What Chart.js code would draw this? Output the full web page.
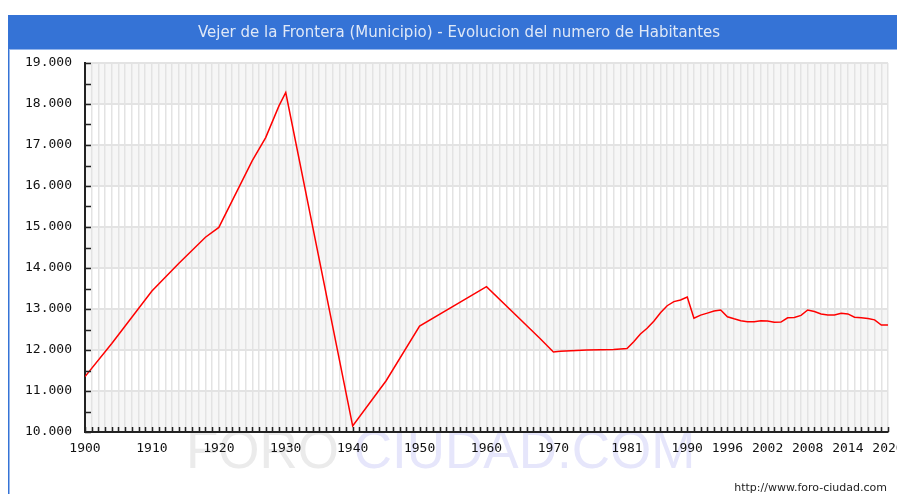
<!DOCTYPE html>
<html>
<head>
<meta charset="utf-8">
<script src="https://cdn.jsdelivr.net/npm/chart.js@4.4.0/dist/chart.umd.min.js"></script>
<style>
html, body { margin: 0; padding: 0; background: #fff; }
</style>
</head>
<body>
<canvas id="habitantes-chart" width="897" height="494"></canvas>
<script>
var titulo = 'Vejer de la Frontera (Municipio) - Evolucion del numero de Habitantes';

// años y habitantes
var anios = [1900, 1904, 1910, 1914, 1918, 1920, 1925, 1927, 1929, 1930,
  1940, 1945, 1950, 1960, 1968, 1970, 1971, 1975, 1979, 1981,
  1982, 1983, 1984, 1985, 1986, 1987, 1988, 1989, 1990, 1991, 1992, 1993, 1994, 1995,
  1996, 1997, 1998, 1999, 2000, 2001, 2002, 2003, 2004, 2005, 2006, 2007, 2008,
  2009, 2010, 2011, 2012, 2013, 2014, 2015, 2016, 2017, 2018, 2019, 2020];
var habitantes = [11350, 12160, 13440, 14110, 14750, 14990, 16620, 17180, 17960, 18280,
  10150, 11250, 12585, 13545, 12280, 11950, 11970, 12000, 12015, 12035,
  12200, 12390, 12530, 12700, 12910, 13080, 13180, 13220, 13290, 12775, 12850, 12900, 12950, 12975,
  12810, 12760, 12715, 12690, 12690, 12715, 12705, 12675, 12680, 12785, 12795, 12845, 12975,
  12940, 12880, 12855, 12855, 12895, 12880, 12800, 12785, 12770, 12735, 12610, 12610];

var etiquetasX = [1900, 1910, 1920, 1930, 1940, 1950, 1960, 1970, 1981, 1990, 1996, 2002, 2008, 2014, 2020];
var ejeY = { min: 10000, max: 19000, paso: 1000 };

var puntos = anios.map(function(a, i) { return { x: a, y: habitantes[i] }; });

var fondo = {
  id: 'fondo',
  beforeDraw: function(chart) {
    var c = chart.ctx, area = chart.chartArea, y = chart.scales.y;
    c.save();
    c.fillStyle = '#fff';
    c.fillRect(0, 0, chart.width, chart.height);

    // marca de agua
    c.font = '53px "Liberation Sans"';
    c.textBaseline = 'alphabetic';
    c.textAlign = 'left';
    c.fillStyle = '#ebebeb';
    c.fillText('FORO', 186, 468);
    var w = c.measureText('FORO ').width;
    c.fillStyle = '#e6e6fb';
    c.fillText('CIUDAD.COM', 186 + w, 468);

    // barra del titulo
    c.fillStyle = '#3573d6';
    c.fillRect(8, 15, chart.width - 8, 34);
    c.fillRect(8, 15, 1.5, chart.height - 15);
    c.fillStyle = '#95b5ea';
    c.fillRect(9.5, 49, chart.width - 9.5, 1);
    c.font = '15px "DejaVu Sans"';
    c.fillStyle = '#dfe8f7';
    c.textAlign = 'center';
    c.textBaseline = 'middle';
    c.fillText(titulo, 459, 33);

    // pie
    c.font = '11px "DejaVu Sans"';
    c.fillStyle = '#222';
    c.textAlign = 'right';
    c.textBaseline = 'alphabetic';
    c.fillText('http://www.foro-ciudad.com', 887, 491);

    // bandas
    c.fillStyle = '#f6f6f6';
    for (var v = ejeY.min; v < ejeY.max; v += 2 * ejeY.paso) {
      var t = y.getPixelForValue(v + ejeY.paso), b = y.getPixelForValue(v);
      c.fillRect(area.left, t, area.right - area.left, b - t);
    }
    c.restore();
  },
  afterDraw: function(chart) {
    var c = chart.ctx, area = chart.chartArea, x = chart.scales.x, y = chart.scales.y;
    c.save();
    c.strokeStyle = '#222';
    c.lineWidth = 1.5;
    c.beginPath();
    for (var a = 1900; a <= 2020; a++) {
      var px = Math.round(x.getPixelForValue(a)) + 0.5;
      c.moveTo(px, area.bottom);
      c.lineTo(px, area.bottom - 5);
    }
    for (var v = ejeY.min; v <= ejeY.max; v += ejeY.paso / 2) {
      var py = Math.round(y.getPixelForValue(v)) + 0.5;
      c.moveTo(area.left, py);
      c.lineTo(area.left + 6, py);
    }
    c.stroke();
    c.restore();
  }
};

var ctx = document.getElementById('habitantes-chart').getContext('2d');
var grafico = new Chart(ctx, {
  type: 'line',
  data: {
    datasets: [{
      data: puntos,
      borderColor: '#ff0000',
      borderWidth: 1.5,
      pointRadius: 0,
      tension: 0,
      fill: false
    }]
  },
  options: {
    responsive: false,
    animation: false,
    devicePixelRatio: 1,
    layout: { padding: { top: 63, left: 0, right: 9, bottom: 0 } },
    plugins: { legend: { display: false }, tooltip: { enabled: false } },
    scales: {
      x: {
        type: 'linear',
        min: 1900,
        max: 2020,
        grid: { color: '#e3e3e3', lineWidth: 1.5, drawTicks: false },
        border: { display: true, color: '#222', width: 2 },
        ticks: {
          stepSize: 1,
          autoSkip: false,
          maxRotation: 0,
          padding: 9,
          color: '#111',
          font: { family: '"DejaVu Sans Mono"', size: 13 },
          callback: function(v) { return etiquetasX.indexOf(v) >= 0 ? String(v) : ''; }
        },
        afterFit: function(s) { s.height = 62; s.paddingLeft = 0; s.paddingRight = 0; }
      },
      y: {
        min: ejeY.min,
        max: ejeY.max,
        grid: { color: '#e3e3e3', lineWidth: 2, drawTicks: false },
        border: { display: true, color: '#222', width: 2 },
        ticks: {
          stepSize: ejeY.paso,
          padding: 13,
          color: '#111',
          font: { family: '"DejaVu Sans Mono"', size: 13 },
          callback: function(v) { return (v / 1000) + '.000'; }
        },
        afterFit: function(s) { s.width = 85; }
      }
    }
  },
  plugins: [fondo]
});
</script>
</body>
</html>
